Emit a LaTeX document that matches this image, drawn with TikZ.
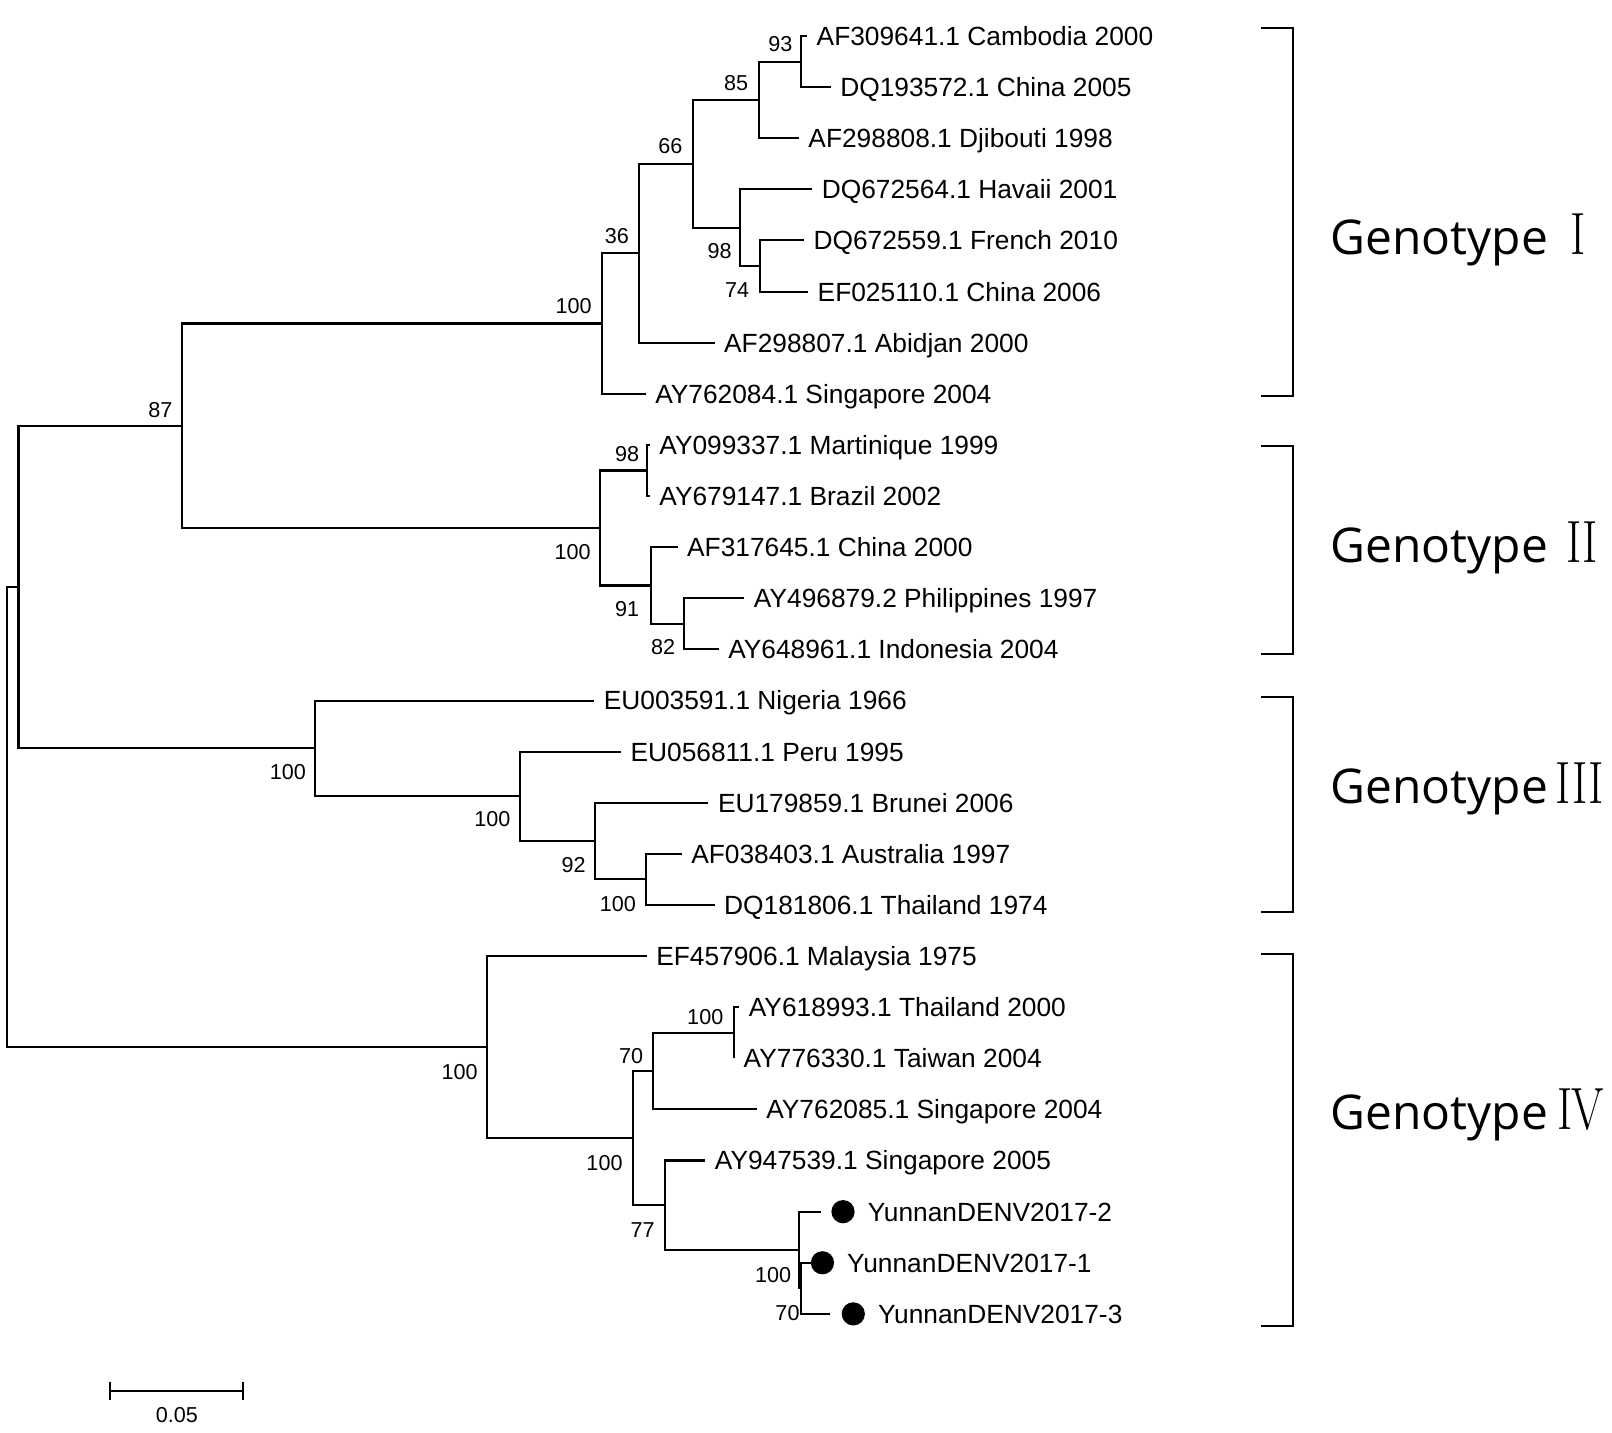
\documentclass[tikz,border=0pt]{standalone}
\usepackage{fontspec}
\usepackage{graphicx}
\newfontfamily\arialf{Liberation Sans}
\newfontfamily\genof{Open Sans}
\begin{document}
\begin{tikzpicture}[x=0.5pt,y=-0.5pt,
  branch/.style={line width=1pt,line join=miter},
  leaf/.style={anchor=west,inner xsep=4.5pt,inner ysep=0pt,text height=9.2pt,text depth=0pt,font=\arialf\fontsize{12.8}{14}\selectfont},
  ytext/.style={anchor=west,inner xsep=6pt,inner ysep=0pt,text height=9.2pt,text depth=0pt,font=\arialf\fontsize{12.8}{14}\selectfont},
  bs/.style={inner sep=0pt,font=\arialf\fontsize{10.5}{12}\selectfont},
  dotmark/.style={circle,fill=black,inner sep=0pt,minimum size=11.3pt},
  geno/.style={anchor=base west,inner sep=0pt,font=\genof\fontsize{23.3}{26}\selectfont},
  romn/.style={anchor=base west,inner sep=0pt,font=\rmfamily\fontsize{29}{30}\selectfont},
  brack/.style={line width=1.1pt,line join=miter}]
\useasboundingbox (0,0) rectangle (1568,1393);

% ---------- leaves ----------
\node[leaf] (L1)  at (785,35)     {AF309641.1 Cambodia 2000};
\node[leaf] (L2)  at (808,84.7)   {DQ193572.1 China 2005};
\node[leaf] (L3)  at (777,134.4)  {AF298808.1 Djibouti 1998};
\node[leaf] (L4)  at (790,184.2)  {DQ672564.1 Havaii 2001};
\node[leaf] (L5)  at (782,233.9)  {DQ672559.1 French 2010};
\node[leaf] (L6)  at (786,283.6)  {EF025110.1 China 2006};
\node[leaf] (L7)  at (695,333.3)  {AF298807.1 Abidjan 2000};
\node[leaf] (L8)  at (628,383)    {AY762084.1 Singapore 2004};
\node[leaf] (L9)  at (632,432.8)  {AY099337.1 Martinique 1999};
\node[leaf] (L10) at (632,482.5)  {AY679147.1 Brazil 2002};
\node[leaf] (L11) at (659,532.2)  {AF317645.1 China 2000};
\node[leaf] (L12) at (724,581.9)  {AY496879.2 Philippines 1997};
\node[leaf] (L13) at (699,631.6)  {AY648961.1 Indonesia 2004};
\node[leaf] (L14) at (578,681.4)  {EU003591.1 Nigeria 1966};
\node[leaf] (L15) at (604,731.1)  {EU056811.1 Peru 1995};
\node[leaf] (L16) at (689,780.8)  {EU179859.1 Brunei 2006};
\node[leaf] (L17) at (663,830.5)  {AF038403.1 Australia 1997};
\node[leaf] (L18) at (695,880.2)  {DQ181806.1 Thailand 1974};
\node[leaf] (L19) at (629,930)    {EF457906.1 Malaysia 1975};
\node[leaf] (L20) at (719,979.7)  {AY618993.1 Thailand 2000};
\node[leaf] (L21) at (714,1029.4) {AY776330.1 Taiwan 2004};
\node[leaf] (L22) at (736,1079.1) {AY762085.1 Singapore 2004};
\node[leaf] (L23) at (686,1128.8) {AY947539.1 Singapore 2005};

\node[dotmark] (D24) at (820,1178.6) {};
\node[dotmark] (D25) at (800,1228.3) {};
\node[dotmark] (D26) at (830,1278)   {};
\coordinate (t24) at (799,1178.6);
\coordinate (t25) at (789,1228.3);
\coordinate (t26) at (807,1278);
\node[ytext] (Y24) at (D24.east) {YunnanDENV2017-2};
\node[ytext] (Y25) at (D25.east) {YunnanDENV2017-1};
\node[ytext] (Y26) at (D26.east) {YunnanDENV2017-3};

% ---------- internal nodes ----------
\coordinate (n93)   at (779,59.85);
\coordinate (n85)   at (738,97.1);
\coordinate (n74)   at (739,258.75);
\coordinate (n98)   at (720,221.5);
\coordinate (n66)   at (674,159.3);
\coordinate (n36)   at (622,246.3);
\coordinate (n100a) at (586,314.65);
\coordinate (n98b)  at (629,457.65);
\coordinate (n82)   at (665,606.75);
\coordinate (n91)   at (633,569.5);
\coordinate (n100b) at (584,513.6);
\coordinate (n87)   at (177,414.1);
\coordinate (n100d) at (628,855.35);
\coordinate (n92)   at (579,818.1);
\coordinate (n100c) at (506,774.6);
\coordinate (n100e) at (306,728);
\coordinate (nX)    at (18,571.05);
\coordinate (n100g) at (714,1004.55);
\coordinate (n70a)  at (635,1041.8);
\coordinate (n70b)  at (779,1253.15);
\coordinate (n100h) at (777,1215.9);
\coordinate (n77)   at (647,1172.35);
\coordinate (n100f) at (615.5,1107.1);
\coordinate (n100i) at (474,1018.55);
\coordinate (root)  at (7,794.8);

% ---------- branches ----------
\begin{scope}[branch]
\draw (n93) |- (L1.west);   \draw (n93) |- (L2.west);
\draw (n85) |- (n93);       \draw (n85) |- (L3.west);
\draw (n74) |- (L5.west);   \draw (n74) |- (L6.west);
\draw (n98) |- (L4.west);   \draw (n98) |- (n74);
\draw (n66) |- (n85);       \draw (n66) |- (n98);
\draw (n36) |- (n66);       \draw (n36) |- (L7.west);
\draw (n100a) |- (n36);     \draw (n100a) |- (L8.west);
\draw (n98b) |- (L9.west);  \draw (n98b) |- (L10.west);
\draw (n82) |- (L12.west);  \draw (n82) |- (L13.west);
\draw (n91) |- (L11.west);  \draw (n91) |- (n82);
\draw (n100b) |- (n98b);    \draw (n100b) |- (n91);
\draw (n87) |- (n100a);     \draw (n87) |- (n100b);
\draw (n100d) |- (L17.west); \draw (n100d) |- (L18.west);
\draw (n92) |- (L16.west);  \draw (n92) |- (n100d);
\draw (n100c) |- (L15.west); \draw (n100c) |- (n92);
\draw (n100e) |- (L14.west); \draw (n100e) |- (n100c);
\draw (nX) |- (n87);        \draw (nX) |- (n100e);
\draw (n100g) |- (L20.west); \draw (n100g) |- (L21.west);
\draw (n70a) |- (n100g);    \draw (n70a) |- (L22.west);
\draw (n70b) |- (t25);      \draw (n70b) |- (t26);
\draw (n100h) |- (t24);     \draw (n100h) |- (n70b);
\draw (n77) |- (L23.west);  \draw (n77) |- (n100h);
\draw (n100f) |- (n70a);    \draw (n100f) |- (n77);
\draw (n100i) |- (L19.west); \draw (n100i) |- (n100f);
\draw (root) |- (nX);       \draw (root) |- (n100i);
\end{scope}

% ---------- bootstrap values ----------
\node[bs] (b93)   at (759,43)   {93};
\node[bs] (b85)   at (716,81)   {85};
\node[bs] (b66)   at (652,142)  {66};
\node[bs] (b36)   at (600,230)  {36};
\node[bs] (b98)   at (700,244)  {98};
\node[bs] (b74)   at (717,282)  {74};
\node[bs] (b100a) at (558,298)  {100};
\node[bs] (b87)   at (156,399)  {87};
\node[bs] (b98b)  at (610,442)  {98};
\node[bs] (b100b) at (557,537)  {100};
\node[bs] (b91)   at (610,592)  {91};
\node[bs] (b82)   at (645,629)  {82};
\node[bs] (b100e) at (280,751)  {100};
\node[bs] (b100c) at (479,797)  {100};
\node[bs] (b92)   at (558,841)  {92};
\node[bs] (b100d) at (601,879)  {100};
\node[bs] (b100i) at (447,1043) {100};
\node[bs] (b100g) at (686,989)  {100};
\node[bs] (b70a)  at (614,1027) {70};
\node[bs] (b100f) at (588,1131) {100};
\node[bs] (b77)   at (625,1196) {77};
\node[bs] (b100h) at (752,1240) {100};
\node[bs] (b70b)  at (766,1277) {70};

% ---------- genotype brackets ----------
\draw[brack] (1227,27)  -- (1258,27)  -- (1258,385)  -- (1227,385);
\draw[brack] (1227,434) -- (1258,434) -- (1258,636)  -- (1227,636);
\draw[brack] (1227,678) -- (1258,678) -- (1258,887)  -- (1227,887);
\draw[brack] (1227,928) -- (1258,928) -- (1258,1290) -- (1227,1290);

\node[geno] (g1) at (1294,247.5) {Genotype};
\node[geno] (g2) at (1294,547)   {Genotype};
\node[geno] (g3) at (1294,782)   {Genotype};
\node[geno] (g4) at (1294,1099)  {Genotype};
\node[romn] (r1) at (1527,247.5) {\scalebox{0.78}[1]{I}};
\node[romn] (r2) at (1523,547)   {\scalebox{0.78}[1]{II}};
\node[romn] (r3) at (1513,782)   {\scalebox{0.78}[1]{III}};
\node[romn] (r4) at (1515,1099)  {\scalebox{0.78}[1]{I\kern-0.04em V}};

% ---------- scale bar ----------
\coordinate (sb1) at (107,1353);
\coordinate (sb2) at (236.6,1353);
\draw[branch] (sb1) -- (sb2);
\draw[branch] ([yshift=4.5pt]sb1) -- ([yshift=-4.5pt]sb1);
\draw[branch] ([yshift=4.5pt]sb2) -- ([yshift=-4.5pt]sb2);
\node[bs] (sbl) at (172,1376) {0.05};
\end{tikzpicture}
\end{document}
